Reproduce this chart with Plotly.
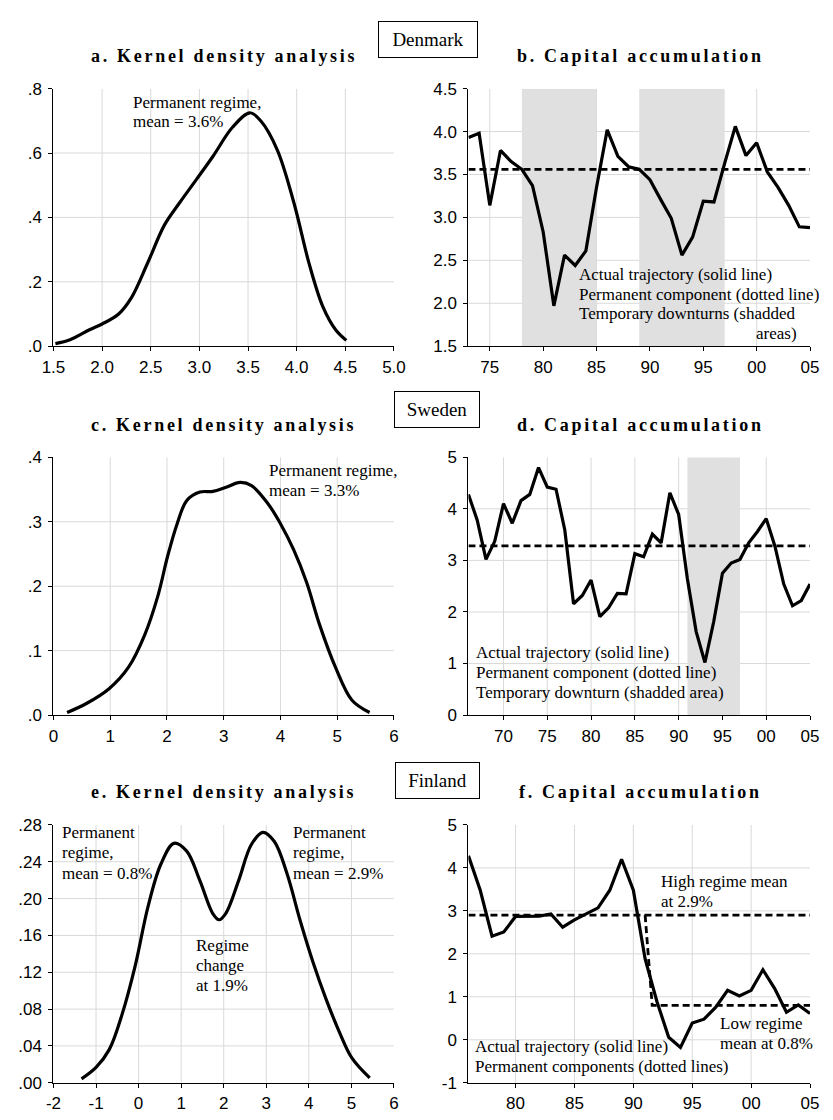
import plotly.graph_objects as go

# ---------------- DATA ----------------
# Denmark
dk_kd_x = [1.52, 1.67, 1.87, 2.0, 2.17, 2.30, 2.47, 2.64, 2.80, 2.97, 3.14, 3.34, 3.52, 3.63, 3.80, 3.97, 4.13, 4.27, 4.40, 4.51]
dk_kd_y = [0.008, 0.02, 0.051, 0.069, 0.10, 0.15, 0.26, 0.376, 0.447, 0.518, 0.59, 0.68, 0.725, 0.70, 0.61, 0.447, 0.254, 0.122, 0.051, 0.018]
dk_years = list(range(1973, 2006))
dk_acc = [3.93, 3.98, 3.14, 3.78, 3.65, 3.56, 3.37, 2.83, 1.97, 2.56, 2.44, 2.61, 3.35, 4.02, 3.71,
          3.59, 3.56, 3.44, 3.21, 2.99, 2.56, 2.77, 3.19, 3.18, 3.63, 4.06, 3.72, 3.87, 3.53, 3.35,
          3.14, 2.89, 2.88]
dk_mean = 3.56
dk_downturns = [(1978, 1985), (1989, 1997)]

# Sweden
se_kd_x = [0.24, 0.58, 0.98, 1.32, 1.61, 1.84, 2.01, 2.18, 2.35, 2.58, 2.81, 3.03, 3.29, 3.49, 3.78, 4.0, 4.23, 4.46, 4.69, 4.97, 5.26, 5.57]
se_kd_y = [0.004, 0.018, 0.041, 0.074, 0.125, 0.185, 0.246, 0.297, 0.333, 0.346, 0.347, 0.353, 0.361, 0.356, 0.328, 0.297, 0.257, 0.206, 0.14, 0.074, 0.023, 0.004]
se_years = list(range(1966, 2006))
se_acc = [4.28, 3.78, 3.02, 3.37, 4.10, 3.72, 4.16, 4.28, 4.80, 4.42, 4.38, 3.59, 2.16, 2.32, 2.62,
          1.91, 2.08, 2.36, 2.35, 3.13, 3.07, 3.51, 3.34, 4.31, 3.89, 2.64, 1.62, 1.02, 1.81, 2.75,
          2.95, 3.02, 3.34, 3.56, 3.81, 3.27, 2.54, 2.12, 2.22, 2.54]
se_mean = 3.28
se_downturns = [(1991, 1997)]

# Finland
fi_kd_x = [-1.34, -1.0, -0.69, -0.39, -0.08, 0.22, 0.52, 0.83, 1.13, 1.44, 1.74, 1.89, 2.05, 2.35, 2.65, 2.92, 3.19, 3.49, 3.79, 4.10, 4.40, 4.71, 5.01, 5.43]
fi_kd_y = [0.0043, 0.0167, 0.036, 0.074, 0.127, 0.191, 0.237, 0.260, 0.2515, 0.2195, 0.184, 0.177, 0.184, 0.2195, 0.2587, 0.272, 0.262, 0.2266, 0.177, 0.1306, 0.0914, 0.0559, 0.027, 0.0053]
fi_years = list(range(1976, 2006))
fi_acc = [4.28, 3.48, 2.41, 2.51, 2.87, 2.88, 2.88, 2.93, 2.62, 2.79, 2.93, 3.07, 3.48, 4.20, 3.48,
          1.88, 0.89, 0.06, -0.18, 0.39, 0.48, 0.76, 1.15, 1.02, 1.15, 1.63, 1.19, 0.64, 0.81, 0.61]
fi_high_mean = 2.9
fi_low_mean = 0.8
fi_break_year = 1991

# Tick labels
a_xt = [1.5, 2.0, 2.5, 3.0, 3.5, 4.0, 4.5, 5.0]
a_xl = ["1.5", "2.0", "2.5", "3.0", "3.5", "4.0", "4.5", "5.0"]
a_yt = [0, 0.2, 0.4, 0.6, 0.8]
a_yl = [".0", ".2", ".4", ".6", ".8"]
b_xt = [1975, 1980, 1985, 1990, 1995, 2000, 2005]
b_xl = ["75", "80", "85", "90", "95", "00", "05"]
b_yt = [1.5, 2.0, 2.5, 3.0, 3.5, 4.0, 4.5]
b_yl = ["1.5", "2.0", "2.5", "3.0", "3.5", "4.0", "4.5"]
c_xt = [0, 1, 2, 3, 4, 5, 6]
c_xl = ["0", "1", "2", "3", "4", "5", "6"]
c_yt = [0, 0.1, 0.2, 0.3, 0.4]
c_yl = [".0", ".1", ".2", ".3", ".4"]
d_xt = [1970, 1975, 1980, 1985, 1990, 1995, 2000, 2005]
d_xl = ["70", "75", "80", "85", "90", "95", "00", "05"]
d_yt = [0, 1, 2, 3, 4, 5]
d_yl = ["0", "1", "2", "3", "4", "5"]
e_xt = [-2, -1, 0, 1, 2, 3, 4, 5, 6]
e_xl = ["-2", "-1", "0", "1", "2", "3", "4", "5", "6"]
e_yt = [0, 0.04, 0.08, 0.12, 0.16, 0.20, 0.24, 0.28]
e_yl = [".00", ".04", ".08", ".12", ".16", ".20", ".24", ".28"]
f_xt = [1980, 1985, 1990, 1995, 2000, 2005]
f_xl = ["80", "85", "90", "95", "00", "05"]
f_yt = [-1, 0, 1, 2, 3, 4, 5]
f_yl = ["-1", "0", "1", "2", "3", "4", "5"]

# ---------------- LAYOUT HELPERS ----------------
W, H = 833, 1120
SERIF = "Liberation Serif, Times New Roman, serif"
SANS = "Liberation Sans, Arial, sans-serif"
GRID = "#d9d9d9"
SHADE = "#e0e0e0"

def px_x(p):
    return p / W

def px_y(p):
    return 1 - p / H

left_px = (42.7, 393.3)
right_px = (470.0, 821.7)
rows_px = [(81.0, 343.0), (456.0, 718.3), (830.0, 1092.3)]

panels = [
    ("a", left_px, rows_px[0], [1.5, 5.0], [0, 0.8], a_xt, a_xl, a_yt, a_yl),
    ("b", right_px, rows_px[0], [1973, 2005], [1.5, 4.5], b_xt, b_xl, b_yt, b_yl),
    ("c", left_px, rows_px[1], [0, 6], [0, 0.4], c_xt, c_xl, c_yt, c_yl),
    ("d", right_px, rows_px[1], [1966, 2005], [0, 5], d_xt, d_xl, d_yt, d_yl),
    ("e", left_px, rows_px[2], [-2, 6], [0, 0.28], e_xt, e_xl, e_yt, e_yl),
    ("f", right_px, rows_px[2], [1976, 2005], [-1, 5], f_xt, f_xl, f_yt, f_yl),
]

fig = go.Figure()
layout = dict(
    width=W, height=H, margin=dict(l=0, r=0, t=0, b=0),
    paper_bgcolor="white", plot_bgcolor="white", showlegend=False,
)
shapes = []
annotations = []
axis_ids = {}

for i, (name, cpx, rpx, xr, yr, xt, xl, yt, yl) in enumerate(panels):
    n = i + 1
    xa = "xaxis" if n == 1 else f"xaxis{n}"
    ya = "yaxis" if n == 1 else f"yaxis{n}"
    xref = "x" if n == 1 else f"x{n}"
    yref = "y" if n == 1 else f"y{n}"
    axis_ids[name] = (xref, yref)
    layout[xa] = dict(
        domain=[px_x(cpx[0]), px_x(cpx[1])], range=xr, anchor=yref,
        tickvals=xt, ticktext=xl, showgrid=False, zeroline=False,
        showline=True, linecolor="black", linewidth=1.3,
        ticks="outside", ticklen=4, tickcolor="black", tickwidth=1.2,
        tickfont=dict(family=SANS, size=17, color="black"),
        ticklabelstandoff=1, fixedrange=True,
    )
    layout[ya] = dict(
        domain=[px_y(rpx[1]), px_y(rpx[0])], range=yr, anchor=xref,
        tickvals=yt, ticktext=yl, showgrid=False, zeroline=False,
        showline=True, linecolor="black", linewidth=1.3,
        ticks="outside", ticklen=4, tickcolor="black", tickwidth=1.2,
        tickfont=dict(family=SANS, size=17, color="black"),
        ticklabelstandoff=3, fixedrange=True,
    )
    for v in xt:
        if xr[0] < v < xr[1]:
            shapes.append(dict(type="line", xref=xref, yref=yref, x0=v, x1=v, y0=yr[0], y1=yr[1],
                               line=dict(color=GRID, width=1), layer="below"))
    for v in yt:
        if yr[0] < v < yr[1]:
            shapes.append(dict(type="line", xref=xref, yref=yref, x0=xr[0], x1=xr[1], y0=v, y1=v,
                               line=dict(color=GRID, width=1), layer="below"))

def add_shading(name, spans, yr):
    xref, yref = axis_ids[name]
    for (s, e) in spans:
        shapes.append(dict(type="rect", xref=xref, yref=yref, x0=s, x1=e, y0=yr[0], y1=yr[1],
                           fillcolor=SHADE, line=dict(width=0), layer="below"))

add_shading("b", dk_downturns, [1.5, 4.5])
add_shading("d", se_downturns, [0, 5])

LINE = dict(color="black", width=3.2)
DASH = dict(color="black", width=2.8, dash="7px,4px")

def trace(name, x, y, line, shape="linear"):
    xref, yref = axis_ids[name]
    ln = dict(line)
    ln["shape"] = shape
    if shape == "spline":
        ln["smoothing"] = 1.0
    fig.add_trace(go.Scatter(x=x, y=y, mode="lines", line=ln, xaxis=xref, yaxis=yref,
                             hoverinfo="skip"))

trace("a", dk_kd_x, dk_kd_y, LINE, "spline")
trace("b", [dk_years[0], dk_years[-1]], [dk_mean, dk_mean], DASH)
trace("b", dk_years, dk_acc, LINE)
trace("c", se_kd_x, se_kd_y, LINE, "spline")
trace("d", [se_years[0], se_years[-1]], [se_mean, se_mean], DASH)
trace("d", se_years, se_acc, LINE)
trace("e", fi_kd_x, fi_kd_y, LINE, "spline")
trace("f", [fi_years[0], fi_years[-1]], [fi_high_mean, fi_high_mean], DASH)
trace("f", [fi_break_year, fi_break_year + 0.6, fi_years[-1]],
      [fi_high_mean, fi_low_mean, fi_low_mean], DASH)
trace("f", fi_years, fi_acc, LINE)

# ---------------- TEXT ----------------
def note(name, x, y, text, anchor="left", size=17):
    xref, yref = axis_ids[name]
    annotations.append(dict(x=x, y=y, xref=xref, yref=yref, text=text, showarrow=False,
                            xanchor=anchor, yanchor="middle",
                            font=dict(family=SERIF, size=size, color="black")))

note("a", 2.30, 0.757, "Permanent regime,")
note("a", 2.30, 0.697, "mean = 3.6%")

note("b", 1983.2, 2.336, "Actual trajectory (solid line)")
note("b", 1983.2, 2.107, "Permanent component (dotted line)")
note("b", 1983.2, 1.878, "Temporary downturns (shadded")
note("b", 2004.0, 1.649, "areas)", anchor="right")

note("c", 3.77, 0.380, "Permanent regime,")
note("c", 3.77, 0.349, "mean = 3.3%")

note("d", 1966.6, 1.22, "Actual trajectory (solid line)")
note("d", 1966.6, 0.83, "Permanent component (dotted line)")
note("d", 1966.6, 0.44, "Temporary downturn (shadded area)")

note("e", -1.85, 0.2718, "Permanent")
note("e", -1.85, 0.2498, "regime,")
note("e", -1.85, 0.2273, "mean = 0.8%")
note("e", 3.58, 0.2718, "Permanent")
note("e", 3.58, 0.2498, "regime,")
note("e", 3.58, 0.2273, "mean = 2.9%")
note("e", 1.31, 0.1489, "Regime")
note("e", 1.31, 0.1272, "change")
note("e", 1.31, 0.1058, "at 1.9%")

note("f", 1992.2, 3.68, "High regime mean")
note("f", 1992.2, 3.22, "at 2.9%")
note("f", 1997.2, 0.386, "Low regime")
note("f", 1997.2, -0.087, "mean at 0.8%")
note("f", 1976.4, -0.16, "Actual trajectory (solid line)")
note("f", 1976.4, -0.62, "Permanent components (dotted lines)")

titles = [
    (218, 48, "a. Kernel density analysis"),
    (646.7, 48, "b. Capital accumulation"),
    (218, 423, "c. Kernel density analysis"),
    (646.7, 423, "d. Capital accumulation"),
    (218, 796.7, "e. Kernel density analysis"),
    (646.7, 796.7, "f. Capital accumulation"),
]
for (cx, cy, t) in titles:
    annotations.append(dict(x=px_x(cx), y=px_y(cy), xref="paper", yref="paper",
                            text=f'<span style="letter-spacing:2.7px"><b>{t}</b></span>',
                            showarrow=False, xanchor="center", yanchor="middle",
                            font=dict(family=SERIF, size=18, color="black")))

countries = [
    (428, 31.5, 96, "Denmark"),
    (438, 407.5, 82, "Sweden"),
    (438.5, 784.5, 81, "Finland"),
]
for (cx, cy, w, t) in countries:
    annotations.append(dict(x=px_x(cx), y=px_y(cy), xref="paper", yref="paper", text=t,
                            showarrow=False, xanchor="center", yanchor="middle",
                            width=w, height=33, borderpad=1, bordercolor="black", borderwidth=1,
                            bgcolor="white",
                            font=dict(family=SERIF, size=19, color="black")))

layout["shapes"] = shapes
layout["annotations"] = annotations
fig.update_layout(**layout)
fig.write_html("out.html")
